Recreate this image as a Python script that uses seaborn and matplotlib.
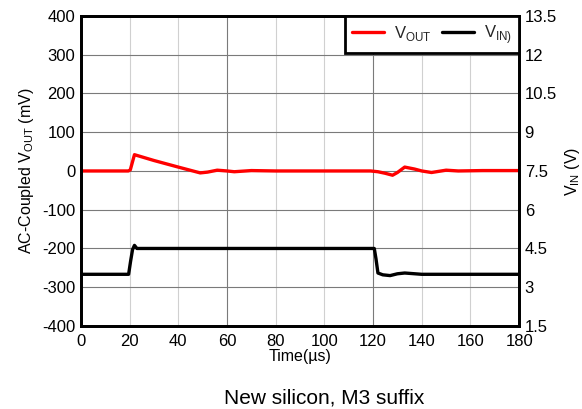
import matplotlib
matplotlib.use("Agg")
import matplotlib.pyplot as plt
from matplotlib.ticker import MultipleLocator, FormatStrFormatter
import seaborn as sns
import pandas as pd

# --- data ---
vout_t = [0, 10, 19.5, 20.3, 22, 30, 40, 46, 49, 52, 56, 60, 63, 70, 80, 90, 100, 110, 119,
          122, 125, 128, 130, 133, 137, 140, 144, 147, 150, 155, 165, 180]
vout_mv = [0, 0, 0, 3, 42, 27, 10, 0, -5, -3, 2, 0, -2, 1, 0, 0, 0, 0, 0,
           -2, -6, -11, -4, 10, 5, 0, -4, -1, 2, 0, 1, 1]

vin_t = [0, 10, 19.6, 20.4, 21.2, 22, 23, 30, 60, 100, 120.5, 121.2, 122, 124, 127, 130, 133, 140, 160, 180]
vin_v = [3.5, 3.5, 3.5, 4.0, 4.45, 4.62, 4.5, 4.5, 4.5, 4.5, 4.5, 4.1, 3.55, 3.48, 3.45, 3.52, 3.55, 3.5, 3.5, 3.5]

series_labels = ["V$_{\\mathrm{OUT}}$", "V$_{\\mathrm{IN)}}$"]
xlabel = "Time(\u00b5s)"
ylabel_left = "AC-Coupled V$_{\\mathrm{OUT}}$ (mV)"
ylabel_right = "V$_{\\mathrm{IN}}$ (V)"
caption = "New silicon, M3 suffix"

sns.set_theme(style="white")
plt.rcParams["font.family"] = ["Liberation Sans", "DejaVu Sans"]
plt.rcParams["mathtext.fontset"] = "custom"
plt.rcParams["mathtext.rm"] = "Liberation Sans"
plt.rcParams["axes.unicode_minus"] = False

fig = plt.figure(figsize=(5.82, 4.09), dpi=100)
ax = fig.add_axes([0.139, 0.203, 0.753, 0.758])
ax2 = ax.twinx()

df_out = pd.DataFrame({"t": vout_t, "v": vout_mv})
df_in = pd.DataFrame({"t": vin_t, "v": vin_v})

sns.lineplot(data=df_out, x="t", y="v", ax=ax, color="#ff0000", lw=2.4, label=series_labels[0], legend=False)
sns.lineplot(data=df_in, x="t", y="v", ax=ax2, color="black", lw=2.4, label=series_labels[1], legend=False)

ax.set_xlim(0, 180)
ax.set_ylim(-400, 400)
ax2.set_ylim(1.5, 13.5)

ax.xaxis.set_major_locator(MultipleLocator(60))
ax.xaxis.set_minor_locator(MultipleLocator(20))
ax.xaxis.set_minor_formatter(FormatStrFormatter("%d"))
ax.yaxis.set_major_locator(MultipleLocator(100))
ax2.yaxis.set_major_locator(MultipleLocator(1.5))
ax2.yaxis.set_major_formatter(matplotlib.ticker.FuncFormatter(lambda v, p: ("%g" % v)))

ax.grid(True, which="major", axis="both", color="#7a7a7a", lw=0.8)
ax.grid(True, which="minor", axis="x", color="#d0d0d0", lw=0.8)
ax.set_axisbelow(True)

for a in (ax, ax2):
    for s in a.spines.values():
        s.set_color("black")
        s.set_linewidth(2)
    a.tick_params(which="both", length=0, labelsize=12, colors="black", pad=4)
ax.tick_params(axis="x", which="both", pad=6)

ax.set_xlabel(xlabel, fontsize=11.5, labelpad=0, color="black")
ax.set_ylabel(ylabel_left, fontsize=11.5, labelpad=4, color="black")
ax2.set_ylabel(ylabel_right, fontsize=11.5, labelpad=4, color="black")

h1, l1 = ax.get_legend_handles_labels()
h2, l2 = ax2.get_legend_handles_labels()
leg = ax2.legend(h1 + h2, l1 + l2, loc="upper right", ncol=2, fontsize=12,
                 frameon=True, fancybox=False, borderaxespad=0, handlelength=1.9,
                 columnspacing=0.65, handletextpad=0.6, borderpad=0.42)
leg.get_frame().set_edgecolor("black")
leg.get_frame().set_linewidth(2)
leg.get_frame().set_alpha(1)

fig.text(0.557, 0.028, caption, ha="center", va="center", fontsize=15, color="black")

fig.savefig("out.png", dpi=100)
